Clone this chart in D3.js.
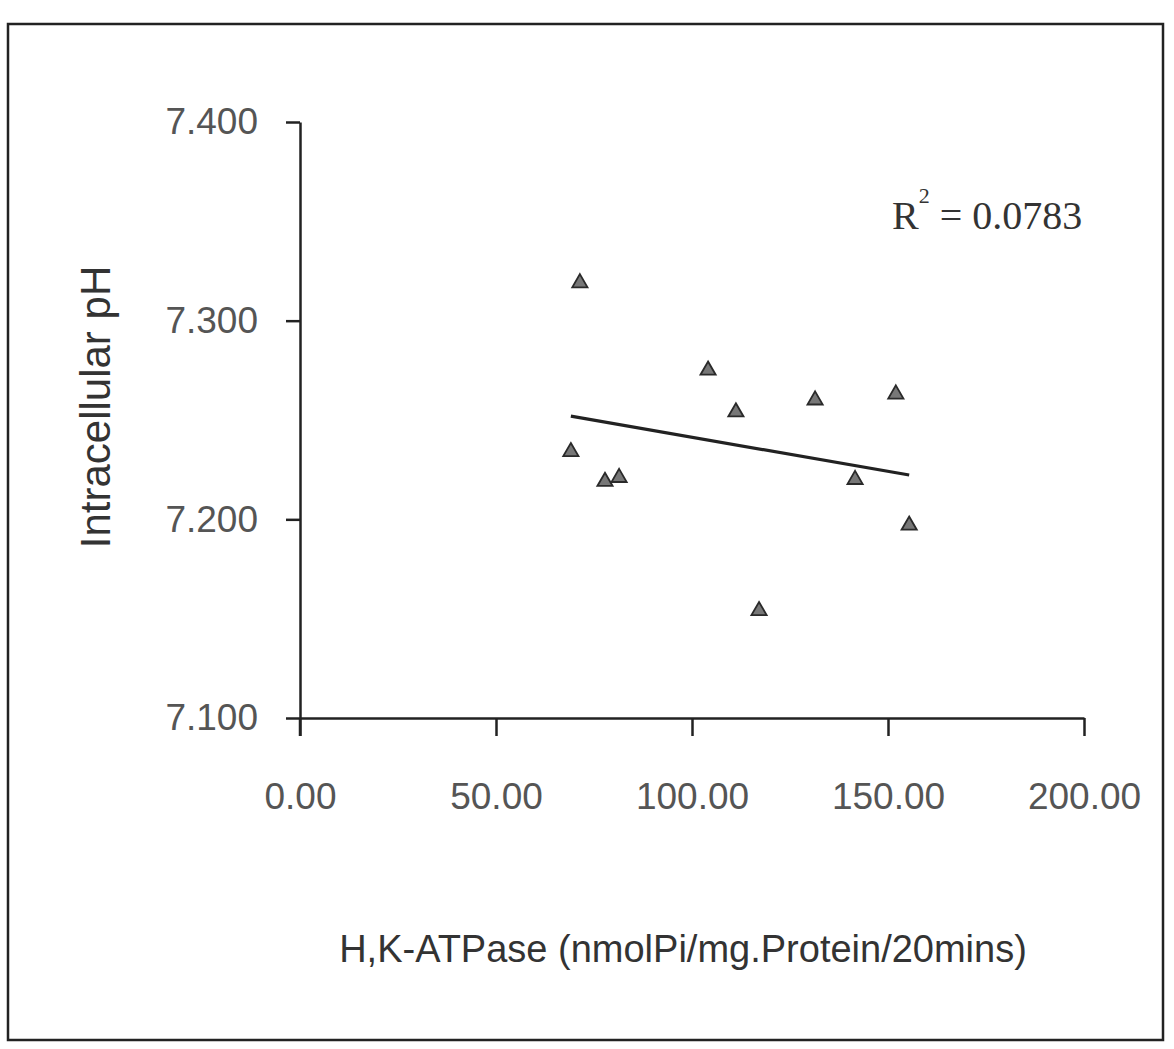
<!DOCTYPE html>
<html><head><meta charset="utf-8">
<script src="https://cdn.jsdelivr.net/npm/d3@7"></script>
<style>html,body{margin:0;padding:0;background:#fff;}svg{display:block;}</style>
</head><body>
<svg id="c" width="1174" height="1049"></svg>
<script>
const atpase = [71.4, 69.1, 77.8, 81.4, 104.1, 111.2, 117.1, 131.4, 141.6, 152.0, 155.4];
const phValues = [7.319, 7.234, 7.219, 7.221, 7.275, 7.254, 7.154, 7.260, 7.220, 7.263, 7.197];
const xTicks = [0, 50, 100, 150, 200];
const yTicks = [7.1, 7.2, 7.3, 7.4];
const r2Label = "0.0783";
const xTitle = "H,K-ATPase (nmolPi/mg.Protein/20mins)";
const yTitle = "Intracellular pH";

const svg = d3.select("#c");
svg.append("rect").attr("width",1174).attr("height",1049).attr("fill","#fff");
svg.append("rect").attr("x",8).attr("y",24).attr("width",1155).attr("height",1016)
  .attr("fill","none").attr("stroke","#222").attr("stroke-width",2.5);

const x = d3.scaleLinear().domain([0,200]).range([300,1084]);
const y = d3.scaleLinear().domain([7.1,7.4]).range([718,122]);

const gx = svg.append("g").attr("transform","translate(0,718)")
  .call(d3.axisBottom(x).tickValues(xTicks).tickFormat(d3.format(".2f")).tickSize(18).tickPadding(47).tickSizeOuter(0));
const gy = svg.append("g").attr("transform","translate(300,0)")
  .call(d3.axisLeft(y).tickValues(yTicks).tickFormat(d3.format(".3f")).tickSize(14).tickPadding(28).tickSizeOuter(0));
[gx,gy].forEach(g=>{
  g.select(".domain").attr("stroke","#222").attr("stroke-width",2.5);
  g.selectAll(".tick line").attr("stroke","#222").attr("stroke-width",2.5);
  g.selectAll(".tick text").attr("fill","#555").style("font-family","Liberation Sans, Arial, sans-serif").style("font-size","37px");
});
svg.append("line").attr("x1",300).attr("x2",300).attr("y1",y(7.1)).attr("y2",y(7.1)+18)
  .attr("stroke","#222").attr("stroke-width",2.5);

// regression line (least squares from the points)
const n = atpase.length;
const mx = d3.mean(atpase), my = d3.mean(phValues);
let sxy=0, sxx=0;
for(let i=0;i<n;i++){ sxy+=(atpase[i]-mx)*(phValues[i]-my); sxx+=(atpase[i]-mx)**2; }
const slope = sxy/sxx, icpt = my - slope*mx;
const x0 = d3.min(atpase), x1 = d3.max(atpase);
svg.append("line").attr("x1",x(x0)).attr("y1",y(icpt+slope*x0)).attr("x2",x(x1)).attr("y2",y(icpt+slope*x1))
  .attr("stroke","#222").attr("stroke-width",3.2);

const tri = d3.symbol().type(d3.symbolTriangle).size(100);
svg.append("g").selectAll("path").data(atpase.map((d,i)=>[d,phValues[i]])).join("path")
  .attr("d",tri).attr("transform",d=>`translate(${x(d[0])},${y(d[1])})`)
  .attr("fill","#777").attr("stroke","#2a2a2a").attr("stroke-width",1.8);

const rt = svg.append("text").attr("x",892).attr("y",229).attr("fill","#333")
  .style("font-family","Liberation Serif, Times New Roman, serif").style("font-size","40px");
rt.append("tspan").text("R");
rt.append("tspan").attr("dy",-26).style("font-size","22px").text("2");
rt.append("tspan").attr("dy",26).text(" = " + r2Label);

svg.append("text").attr("x",683).attr("y",962).attr("text-anchor","middle").attr("fill","#333")
  .style("font-family","Liberation Sans, Arial, sans-serif").style("font-size","38px").text(xTitle);
svg.append("text").attr("transform","translate(110,407) rotate(-90)").attr("text-anchor","middle").attr("fill","#333")
  .style("font-family","Liberation Sans, Arial, sans-serif").style("font-size","42px").text(yTitle);
</script>
</body></html>
